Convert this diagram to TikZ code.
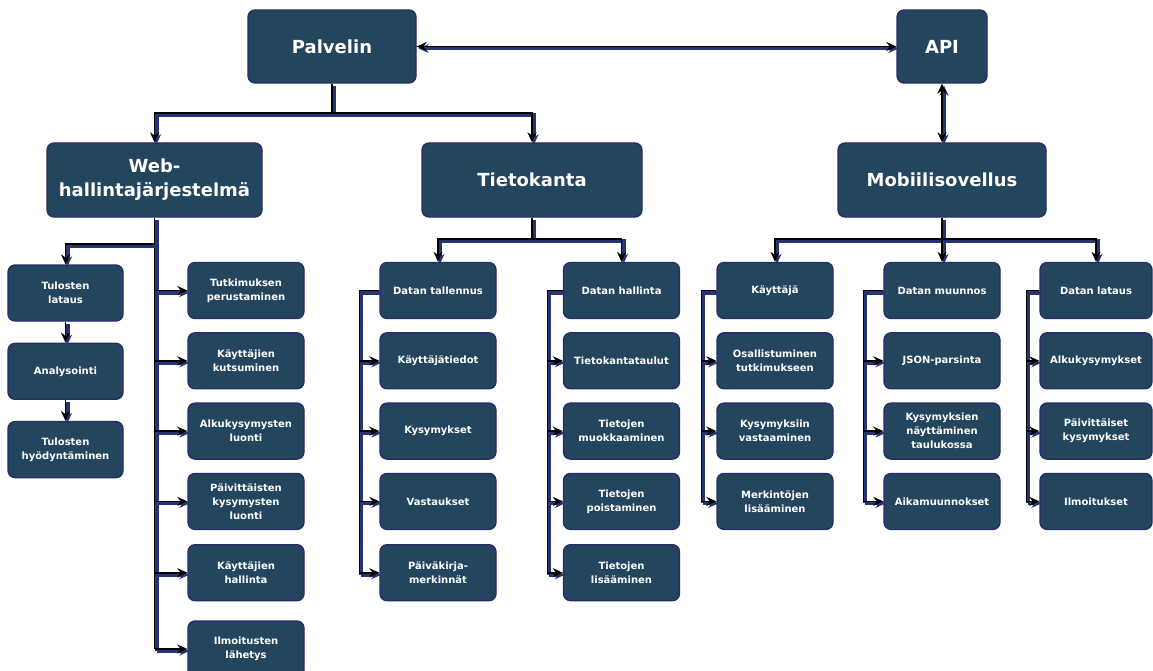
\documentclass[tikz,border=0pt]{standalone}
\usepackage{fontspec}
\setmainfont{DejaVu Sans}
\usetikzlibrary{arrows.meta,positioning}
\definecolor{boxfill}{RGB}{36,69,94}
\definecolor{boxedge}{RGB}{38,44,102}
\definecolor{linknavy}{RGB}{40,51,114}
\tikzset
    {
        bx/.style = {rectangle, rounded corners=7pt, fill=boxfill, draw=boxedge, line width=1.3pt, text=white, align=center, inner sep=2pt, minimum width=116pt, minimum height=56pt, font=\bfseries\fontsize{10}{14}\selectfont},
        bigbx/.style = {bx, minimum height=74pt, font=\bfseries\fontsize{18}{24}\selectfont},
        link/.style = {draw=black, line width=1.7pt, preaction={draw=linknavy, line width=4pt, transform canvas={shift={(2pt,-2pt)}}}}
    }

\begin{document}
\begin{tikzpicture}[>={Stealth[length=10pt,width=9pt]}, x=1pt, y=-1pt]
    \useasboundingbox (0,0) rectangle (1153,671);

    % top level
    \node [bigbx, minimum width=168pt, minimum height=73pt] (palvelin) at (332,46.5) {Palvelin};
    \node [bigbx, minimum width=90pt, minimum height=73pt] (api) at (942,46.5) {API};
    \node [bigbx, minimum width=215pt] (web) at (154.5,180) {Web-\\hallintajärjestelmä};
    \node [bigbx, minimum width=220pt] (tietokanta) at (532,180) {Tietokanta};
    \node [bigbx, minimum width=208pt] (mobiili) at (942,180) {Mobiilisovellus};

    % web
    \node [bx, minimum width=115pt] (tlat) at (65.5,293) {Tulosten\\lataus};
    \node [bx, minimum width=115pt, below=21pt of tlat] (anal) {Analysointi};
    \node [bx, minimum width=115pt, below=21pt of anal] (hyod) {Tulosten\\hyödyntäminen};
    \node [bx] (tutk) at (246,290.5) {Tutkimuksen\\perustaminen};
    \node [bx, below=13pt of tutk] (kutsu) {Käyttäjien\\kutsuminen};
    \node [bx, below=13pt of kutsu] (alku) {Alkukysymysten\\luonti};
    \node [bx, below=13pt of alku] (paiv) {Päivittäisten\\kysymysten\\luonti};
    \node [bx, below=14pt of paiv] (hall) {Käyttäjien\\hallinta};
    \node [bx, below=19pt of hall] (ilmo) {Ilmoitusten\\lähetys};

    % tietokanta
    \node [bx] (dtal) at (438,290.5) {Datan tallennus};
    \node [bx, below=13pt of dtal] (kayt) {Käyttäjätiedot};
    \node [bx, below=13pt of kayt] (kys) {Kysymykset};
    \node [bx, below=13pt of kys] (vast) {Vastaukset};
    \node [bx, below=14pt of vast] (pkm) {Päiväkirja-\\merkinnät};
    \node [bx] (dhal) at (621.5,290.5) {Datan hallinta};
    \node [bx, below=13pt of dhal] (taulut) {Tietokantataulut};
    \node [bx, below=13pt of taulut] (muok) {Tietojen\\muokkaaminen};
    \node [bx, below=13pt of muok] (poist) {Tietojen\\poistaminen};
    \node [bx, below=14pt of poist] (lisa) {Tietojen\\lisääminen};

    % mobiili
    \node [bx] (kay) at (775,290.5) {Käyttäjä};
    \node [bx, below=13pt of kay] (osal) {Osallistuminen\\tutkimukseen};
    \node [bx, below=13pt of osal] (kysv) {Kysymyksiin\\vastaaminen};
    \node [bx, below=13pt of kysv] (merk) {Merkintöjen\\lisääminen};
    \node [bx] (dmuu) at (942,290.5) {Datan muunnos};
    \node [bx, below=13pt of dmuu] (json) {JSON-parsinta};
    \node [bx, below=13pt of json] (kysn) {Kysymyksien\\näyttäminen\\taulukossa};
    \node [bx, below=13pt of kysn] (aika) {Aikamuunnokset};
    \node [bx, minimum width=112pt] (dlat) at (1096,290.5) {Datan lataus};
    \node [bx, minimum width=112pt, below=13pt of dlat] (alkuk) {Alkukysymykset};
    \node [bx, minimum width=112pt, below=13pt of alkuk] (paivk) {Päivittäiset\\kysymykset};
    \node [bx, minimum width=112pt, below=13pt of paivk] (ilm) {Ilmoitukset};

    % connectors
    \draw [link, <->] (palvelin) -- (api);
    \draw [link, <->] (api) -- (mobiili);
    \coordinate (pj) at (332,113);
    \draw [link, ->] (palvelin) -- (pj) -| (web);
    \draw [link, ->] (pj) -| (tietokanta);

    \draw [link] (web) -- (web.south |- ilmo);
    \draw [link, ->] (web.south) ++(0,26) -| (tlat);
    \draw [link, ->] (tlat) -- (anal);
    \draw [link, ->] (anal) -- (hyod);
    \foreach \n in {tutk,kutsu,alku,paiv,hall,ilmo}
        \draw [link, ->] (web.south |- \n) -- (\n);

    \draw [link, ->] (tietokanta.south) -- ++(0,21) -| (dtal);
    \draw [link, ->] (tietokanta.south) ++(0,21) -| (dhal);
    \draw [link] (dtal.west) -- ++(-20,0) coordinate (dtj) -- (dtj |- pkm);
    \foreach \n in {kayt,kys,vast,pkm}
        \draw [link, ->] (dtj |- \n) -- (\n);
    \draw [link] (dhal.west) -- ++(-15.5,0) coordinate (dhj) -- (dhj |- lisa);
    \foreach \n in {taulut,muok,poist,lisa}
        \draw [link, ->] (dhj |- \n) -- (\n);

    \draw [link, ->] (mobiili.south) -- ++(0,21) -| (kay);
    \draw [link, ->] (mobiili.south) ++(0,21) -| (dmuu);
    \draw [link, ->] (mobiili.south) ++(0,21) -| (dlat);
    \draw [link] (kay.west) -- ++(-15,0) coordinate (kj) -- (kj |- merk);
    \foreach \n in {osal,kysv,merk}
        \draw [link, ->] (kj |- \n) -- (\n);
    \draw [link] (dmuu.west) -- ++(-20,0) coordinate (mj) -- (mj |- aika);
    \foreach \n in {json,kysn,aika}
        \draw [link, ->] (mj |- \n) -- (\n);
    \draw [link] (dlat.west) -- ++(-13,0) coordinate (lj) -- (lj |- ilm);
    \foreach \n in {alkuk,paivk,ilm}
        \draw [link, ->] (lj |- \n) -- (\n);
\end{tikzpicture}
\end{document}
